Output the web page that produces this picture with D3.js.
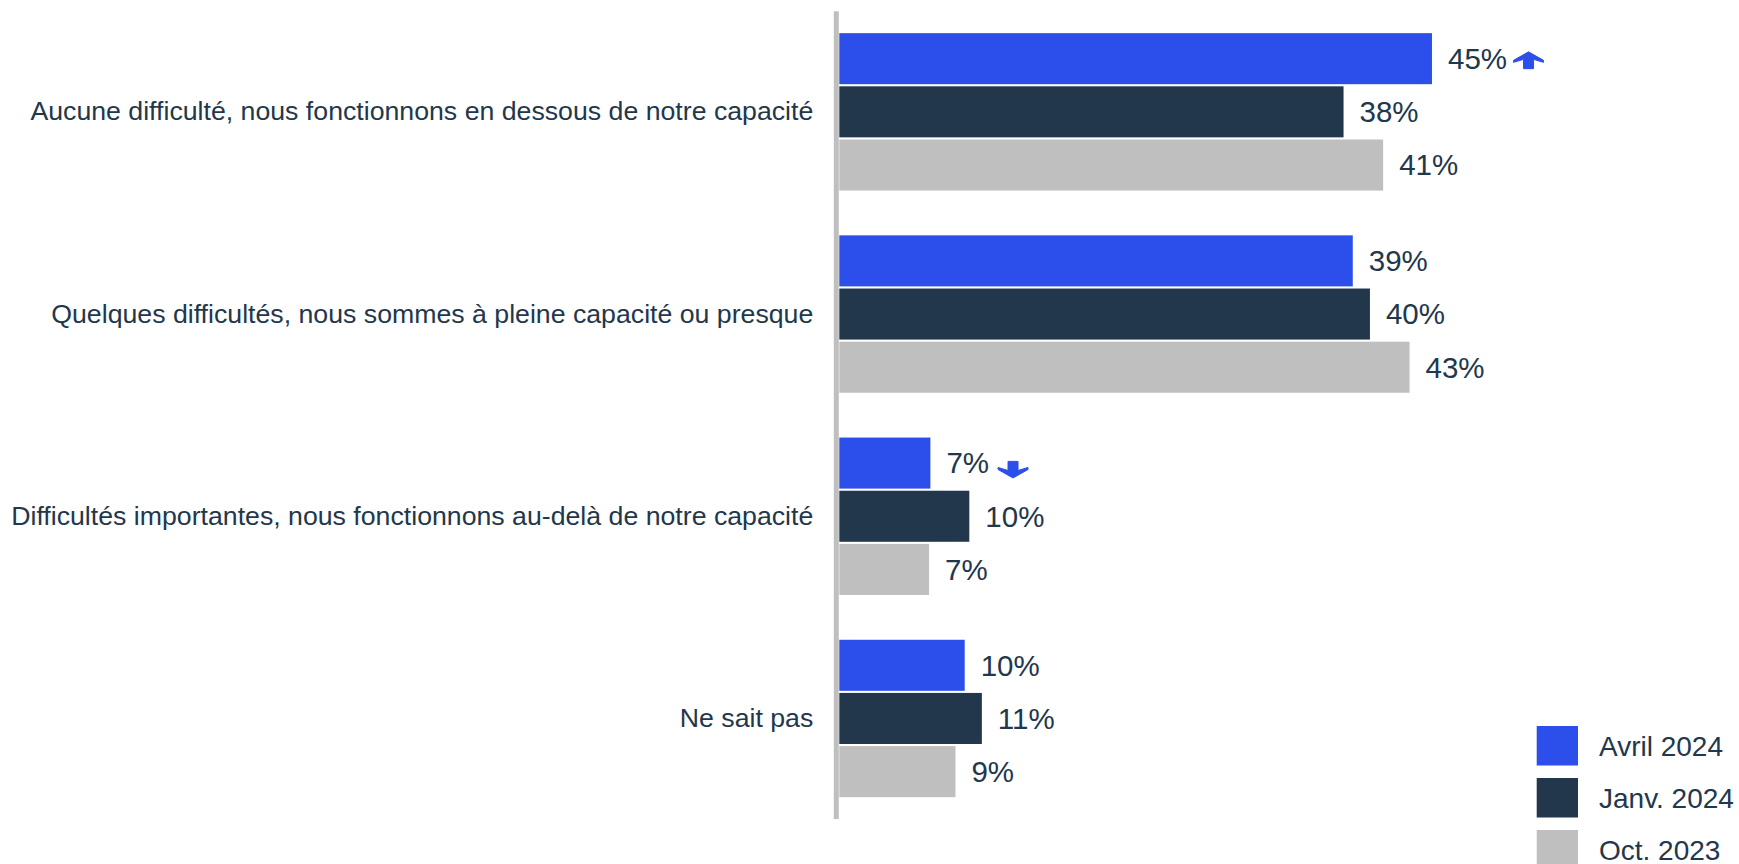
<!DOCTYPE html>
<html>
<head>
<meta charset="utf-8">
<script src="https://cdn.jsdelivr.net/npm/d3@7"></script>
<style>
  html, body { margin: 0; padding: 0; background: #ffffff; }
  svg { display: block; font-family: "Liberation Sans", Arial, sans-serif; }
</style>
</head>
<body>
<svg id="chart" width="1739" height="864"></svg>
<script>
// ---- Data ----
const categories = [
  "Aucune difficulté, nous fonctionnons en dessous de notre capacité",
  "Quelques difficultés, nous sommes à pleine capacité ou presque",
  "Difficultés importantes, nous fonctionnons au-delà de notre capacité",
  "Ne sait pas"
];
const seriesNames = ["Avril 2024", "Janv. 2024", "Oct. 2023"];
const avril2024 = [44.9, 38.9, 6.9, 9.5];
const janv2024  = [38.2, 40.2, 9.85, 10.8];
const oct2023   = [41.2, 43.2, 6.8, 8.8];
const seriesValues = [avril2024, janv2024, oct2023];
// significant-change markers: [series index, category index, direction]
const markers = [
  [0, 0, "up"],
  [0, 2, "down"]
];

// ---- Style ----
const colors = ["#2c4fec", "#22374b", "#bfbfbf"];
const textColor = "#22374b";

const svg = d3.select("#chart");

const x0 = 839.3;
const x = d3.scaleLinear().domain([0, 50]).range([x0, x0 + 660]);

const y = d3.scaleBand()
  .domain(categories)
  .range([11.3, 819])
  .paddingInner(0.2216)
  .paddingOuter(0.108);

const ySub = d3.scaleBand()
  .domain(seriesNames)
  .range([0, y.bandwidth()])
  .paddingInner(0.04)
  .paddingOuter(0);

// axis line
svg.append("line")
  .attr("x1", x0 - 3).attr("x2", x0 - 3)
  .attr("y1", 11.3).attr("y2", 819)
  .attr("stroke", "#bfbfbf").attr("stroke-width", 5);

// category labels via axis
const yAxis = d3.axisLeft(y).tickSize(0).tickPadding(0);
const gAxis = svg.append("g")
  .attr("transform", `translate(${x0 - 26},0)`)
  .call(yAxis);
gAxis.select(".domain").remove();
gAxis.selectAll("text")
  .attr("fill", textColor)
  .style("font-size", "26.7px")
  .style("font-family", '"Liberation Sans", Arial, sans-serif');

// bars
const rows = [];
categories.forEach((c, ci) => {
  seriesNames.forEach((s, si) => {
    rows.push({ c, ci, s, si, v: seriesValues[si][ci] });
  });
});

const g = svg.append("g");
g.selectAll("rect.bar")
  .data(rows)
  .join("rect")
  .attr("class", "bar")
  .attr("x", x(0))
  .attr("y", d => y(d.c) + ySub(d.s))
  .attr("width", d => x(d.v) - x(0))
  .attr("height", ySub.bandwidth())
  .attr("fill", d => colors[d.si]);

const labelGap = 16;
const labels = g.selectAll("text.val")
  .data(rows)
  .join("text")
  .attr("class", "val")
  .attr("x", d => x(d.v) + labelGap)
  .attr("y", d => y(d.c) + ySub(d.s) + ySub.bandwidth() / 2)
  .attr("dy", "0.35em")
  .attr("fill", textColor)
  .style("font-size", "29.5px")
  .text(d => Math.round(d.v) + "%");

// arrows
markers.forEach(([si, ci, dir]) => {
  const node = labels.filter(d => d.si === si && d.ci === ci).node();
  const d = rows.find(r => r.si === si && r.ci === ci);
  const lx = x(d.v) + labelGap + node.getComputedTextLength();
  const cy = y(d.c) + ySub(d.s) + ySub.bandwidth() / 2;
  const cx = lx + (dir === "up" ? 21.5 : 24);
  let p;
  if (dir === "up") {
    const t = cy - 6.8, b = cy + 10;
    p = `M${cx},${t} L${cx + 15},${t + 8.5} L${cx + 15},${t + 10.5} L${cx + 5},${t + 7.5} L${cx + 5},${b} L${cx - 5},${b} L${cx - 5},${t + 7.5} L${cx - 15},${t + 10.5} L${cx - 15},${t + 8.5} Z`;
  } else {
    const t = cy - 1.7, b = cy + 14.9;
    p = `M${cx},${b} L${cx + 15},${b - 8.5} L${cx + 15},${b - 10.5} L${cx + 5},${b - 7.5} L${cx + 5},${t} L${cx - 5},${t} L${cx - 5},${b - 7.5} L${cx - 15},${b - 10.5} L${cx - 15},${b - 8.5} Z`;
  }
  svg.append("path").attr("d", p).attr("fill", colors[0])
    .attr("stroke", colors[0]).attr("stroke-width", 1).attr("stroke-linejoin", "round");
});

// legend
const legend = svg.append("g").attr("transform", "translate(1536.7,726)");
const li = legend.selectAll("g")
  .data(seriesNames)
  .join("g")
  .attr("transform", (d, i) => `translate(0,${i * 52})`);
li.append("rect")
  .attr("width", 41.3).attr("height", 39.5)
  .attr("fill", (d, i) => colors[i]);
li.append("text")
  .attr("x", 62.3).attr("y", 19.75).attr("dy", "0.35em")
  .attr("fill", textColor)
  .style("font-size", "28px")
  .text(d => d);
</script>
</body>
</html>
